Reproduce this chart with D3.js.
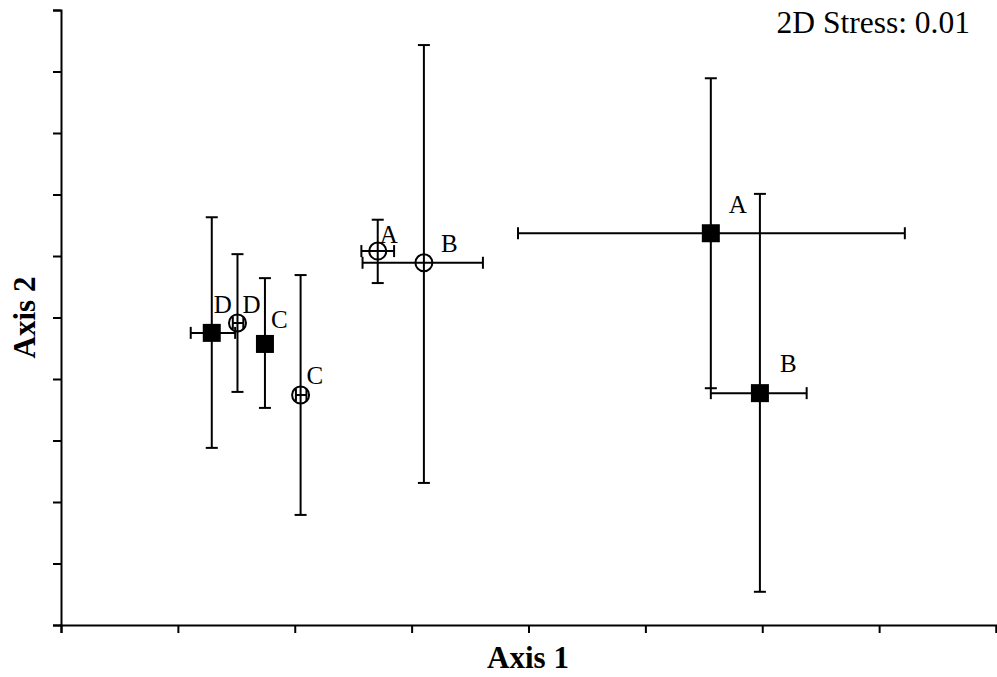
<!DOCTYPE html>
<html>
<head>
<meta charset="utf-8">
<title>Axis 1 vs Axis 2</title>
<script src="https://cdn.jsdelivr.net/npm/d3@7"></script>
<style>
  body { margin: 0; background: #fff; }
  svg text { font-family: "Liberation Serif", "Times New Roman", serif; fill: #000; }
  .axis path, .axis line { stroke: #000; stroke-width: 2px; }
  .bar { stroke: #000; stroke-width: 2px; fill: none; }
</style>
</head>
<body>
<svg id="chart"></svg>
<script>

// group labels
var groups = ["A", "B", "C", "D"];

// filled squares
var filledX   = [5.56, 5.98, 1.745, 1.29];
var filledY   = [6.37, 3.77, 4.57, 4.75];
var filledXLo = [3.91, 5.56, 1.745, 1.11];
var filledXHi = [7.22, 6.38, 1.745, 1.49];
var filledYLo = [3.85, 0.54, 3.53, 2.88];
var filledYHi = [8.89, 7.01, 5.64, 6.63];

// open circles
var openX   = [2.71, 3.105, 2.05, 1.51];
var openY   = [6.08, 5.89, 3.74, 4.91];
var openXLo = [2.57, 2.58, 2.01, 1.47];
var openXHi = [2.85, 3.61, 2.10, 1.56];
var openYLo = [5.56, 2.31, 1.79, 3.79];
var openYHi = [6.59, 9.43, 5.69, 6.03];

var xTicks = [0, 1, 2, 3, 4, 5, 6, 7, 8];
var yTicks = [0, 1, 2, 3, 4, 5, 6, 7, 8, 9, 10];
var stressLabel = "2D Stress: 0.01";

var width = 997, height = 677;
var svg = d3.select("#chart").attr("width", width).attr("height", height);

var x = d3.scaleLinear().domain([0, 8]).range([61, 996]);
var y = d3.scaleLinear().domain([0, 10]).range([625, 10]);

svg.append("g")
    .attr("class", "axis")
    .attr("transform", "translate(0," + y(0) + ")")
    .call(d3.axisBottom(x).tickValues(xTicks).tickSize(8).tickFormat(""));

svg.append("g")
    .attr("class", "axis")
    .attr("transform", "translate(" + x(0) + ",0)")
    .call(d3.axisLeft(y).tickValues(yTicks).tickSize(8).tickFormat(""));

svg.append("text")
    .attr("x", 528).attr("y", 668)
    .attr("text-anchor", "middle")
    .style("font-size", "31px").style("font-weight", "bold")
    .text("Axis 1");

svg.append("text")
    .attr("transform", "translate(35," + y(5) + ") rotate(-90)")
    .attr("text-anchor", "middle")
    .style("font-size", "31px").style("font-weight", "bold")
    .text("Axis 2");

svg.append("text")
    .attr("x", 970).attr("y", 33)
    .attr("text-anchor", "end")
    .style("font-size", "31.5px")
    .text(stressLabel);

function makeRows(xs, ys, xlo, xhi, ylo, yhi) {
  return groups.map(function(g, i) {
    return {g: g, x: xs[i], y: ys[i], xlo: xlo[i], xhi: xhi[i], ylo: ylo[i], yhi: yhi[i]};
  });
}
var filled = makeRows(filledX, filledY, filledXLo, filledXHi, filledYLo, filledYHi);
var open = makeRows(openX, openY, openXLo, openXHi, openYLo, openYHi);

var cap = 6;
function drawBars(rows) {
  var g = svg.append("g");
  rows.forEach(function(d) {
    // vertical
    g.append("line").attr("class", "bar")
      .attr("x1", x(d.x)).attr("x2", x(d.x)).attr("y1", y(d.ylo)).attr("y2", y(d.yhi));
    [d.ylo, d.yhi].forEach(function(v) {
      g.append("line").attr("class", "bar")
        .attr("x1", x(d.x) - cap).attr("x2", x(d.x) + cap).attr("y1", y(v)).attr("y2", y(v));
    });
    // horizontal
    if (d.xhi > d.xlo) {
      g.append("line").attr("class", "bar")
        .attr("x1", x(d.xlo)).attr("x2", x(d.xhi)).attr("y1", y(d.y)).attr("y2", y(d.y));
      [d.xlo, d.xhi].forEach(function(v) {
        g.append("line").attr("class", "bar")
          .attr("x1", x(v)).attr("x2", x(v)).attr("y1", y(d.y) - cap).attr("y2", y(d.y) + cap);
      });
    }
  });
}
drawBars(filled);
drawBars(open);

svg.selectAll(".sq").data(filled).enter().append("rect")
    .attr("class", "sq")
    .attr("x", function(d) { return x(d.x) - 9; })
    .attr("y", function(d) { return y(d.y) - 9; })
    .attr("width", 18).attr("height", 18)
    .style("fill", "#000");

svg.selectAll(".ci").data(open).enter().append("circle")
    .attr("class", "ci bar")
    .attr("cx", function(d) { return x(d.x); })
    .attr("cy", function(d) { return y(d.y); })
    .attr("r", 8.5);

// label offsets in pixels (A, B, C, D)
var filledOff = [[18, -20], [20, -21], [6, -16], [2, -20]];
var openOff = [[2, -8], [17, -11], [6, -11], [5, -10]];

function drawLabels(rows, off) {
  svg.append("g").selectAll("text").data(rows).enter().append("text")
    .attr("x", function(d, i) { return x(d.x) + off[i][0]; })
    .attr("y", function(d, i) { return y(d.y) + off[i][1]; })
    .style("font-size", "25px")
    .text(function(d) { return d.g; });
}
drawLabels(filled, filledOff);
drawLabels(open, openOff);

</script>
</body>
</html>
